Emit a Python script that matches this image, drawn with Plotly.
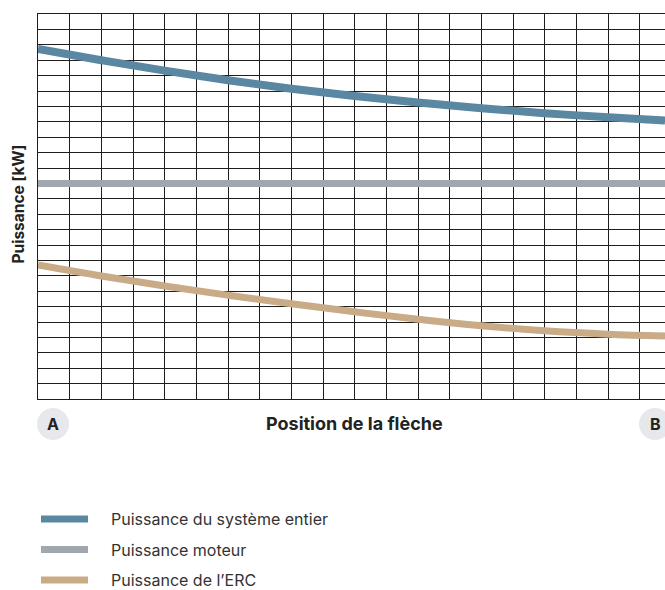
import plotly.graph_objects as go

# position along the arrow (grid units, A=0) and power curves (grid units)
position = [0, 2, 4, 6, 8, 10, 12, 14, 16, 18, 19.8]
systeme_entier = [22.73, 22.0, 21.32, 20.7, 20.15, 19.67, 19.25, 18.88, 18.56, 18.29, 18.08]
moteur = [14, 14, 14, 14, 14, 14, 14, 14, 14, 14, 14]
erc = [8.70, 7.99, 7.34, 6.74, 6.18, 5.66, 5.18, 4.76, 4.43, 4.21, 4.09]

series_names = ["Puissance du système entier", "Puissance moteur", "Puissance de l’ERC"]
series_values = [systeme_entier, moteur, erc]
colors = ["#5a87a1", "#a1a7ae", "#c9ab88"]
widths = [8, 7, 7]

W, H = 665, 590
L, T, B = 38, 14, 191
plot_w = W - L
plot_h = H - T - B

fig = go.Figure()
for name, vals, color, w in zip(series_names, series_values, colors, widths):
    fig.add_trace(go.Scatter(
        x=position, y=vals, name=name, mode="lines",
        line=dict(color=color, width=w, shape="spline", smoothing=1.0),
        showlegend=False,
    ))

grid = dict(showgrid=True, gridcolor="#1e1e1e", gridwidth=1.2, zeroline=False,
            showticklabels=False, ticks="", dtick=1, tick0=0,
            showline=True, linecolor="#1e1e1e", linewidth=1.2)

fig.update_layout(
    width=W, height=H,
    margin=dict(l=L, r=0, t=T, b=B),
    paper_bgcolor="white", plot_bgcolor="white",
    font=dict(family="Inter, Roboto, sans-serif", color="#222"),
    xaxis=dict(range=[0, 19.8], mirror=True, **grid),
    yaxis=dict(range=[0, 25], **grid),
)

def px_x(x):
    return (x - L) / plot_w

def px_y(y):
    return (T + plot_h - y) / plot_h

annotations = [
    dict(text="<b>Puissance [kW]</b>", x=px_x(17.5), y=px_y(204), textangle=-90,
         font=dict(size=15.5, color="#222")),
    dict(text="<b>Position de la flèche</b>", x=px_x(354), y=px_y(424),
         font=dict(size=18, color="#222")),
    dict(text="<b>A</b>", x=px_x(53), y=px_y(424), font=dict(size=16, color="#222")),
    dict(text="<b>B</b>", x=px_x(655), y=px_y(424), font=dict(size=16, color="#222")),
]
for a in annotations:
    a.update(xref="paper", yref="paper", showarrow=False,
             xanchor="center", yanchor="middle")

shapes = []
for cx in (53, 655):
    shapes.append(dict(type="circle", xref="paper", yref="paper",
                       x0=px_x(cx - 16), x1=px_x(cx + 16),
                       y0=px_y(424 + 16), y1=px_y(424 - 16),
                       fillcolor="#e6e8ec", line=dict(width=0), layer="below"))

# legend drawn below the chart
for i, (name, color) in enumerate(zip(series_names, colors)):
    ly = 519 + i * 30.5
    shapes.append(dict(type="line", xref="paper", yref="paper",
                       x0=px_x(41), x1=px_x(88), y0=px_y(ly), y1=px_y(ly),
                       line=dict(color=color, width=7)))
    annotations.append(dict(text=name, xref="paper", yref="paper", showarrow=False,
                            x=px_x(109), y=px_y(ly), xanchor="left", yanchor="middle",
                            font=dict(size=16, color="#333")))

fig.update_layout(annotations=annotations, shapes=shapes)
fig.write_html("out.html", config={"displayModeBar": False},
               post_script="document.body.style.margin='0';"
                           "document.body.style.overflow='hidden';")
